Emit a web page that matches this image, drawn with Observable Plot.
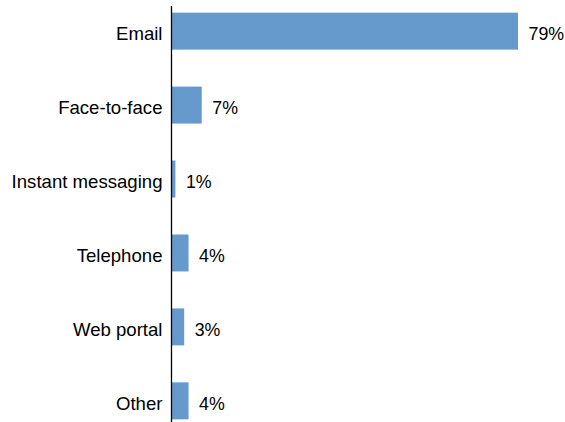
<!DOCTYPE html>
<html>
<head>
<meta charset="utf-8">
<script src="https://cdn.jsdelivr.net/npm/d3@7"></script>
<script src="https://cdn.jsdelivr.net/npm/@observablehq/plot@0.6"></script>
<style>
  body { margin: 0; background: #fff; }
  #chart svg { display: block; }
</style>
</head>
<body>
<div id="chart"></div>
<script>
const categories = ["Email", "Face-to-face", "Instant messaging", "Telephone", "Web portal", "Other"];
const values = [79, 7, 1, 4, 3, 4];
const valueLabels = ["79%", "7%", "1%", "4%", "3%", "4%"];

const data = categories.map((c, i) => ({category: c, value: values[i], label: valueLabels[i]}));

const chart = Plot.plot({
  width: 565,
  height: 422,
  marginTop: 6,
  marginBottom: 0,
  marginLeft: 171,
  marginRight: 0,
  style: {fontFamily: "'Liberation Sans', Arial, sans-serif", fontSize: "18.6px", color: "#000", background: "#fff"},
  x: {domain: [0, 79], range: [171, 518], axis: null},
  y: {domain: categories, range: [6, 426], round: false, paddingInner: 0.5, paddingOuter: 0.09, label: null, axis: null},
  marks: [
    Plot.barX(data, {x: "value", y: "category", fill: "#6699cc"}),
    Plot.axisY({tickSize: 0, tickPadding: 9, dy: 2.5, label: null, fill: "#000", fontSize: 18.6}),
    Plot.text(data, {x: "value", y: "category", text: "label", textAnchor: "start", dx: 10, dy: 2.5, fill: "#000", fontSize: 17.8}),
    Plot.ruleX([0], {stroke: "#000", strokeWidth: 1.3})
  ]
});
document.getElementById("chart").appendChild(chart);
</script>
</body>
</html>
